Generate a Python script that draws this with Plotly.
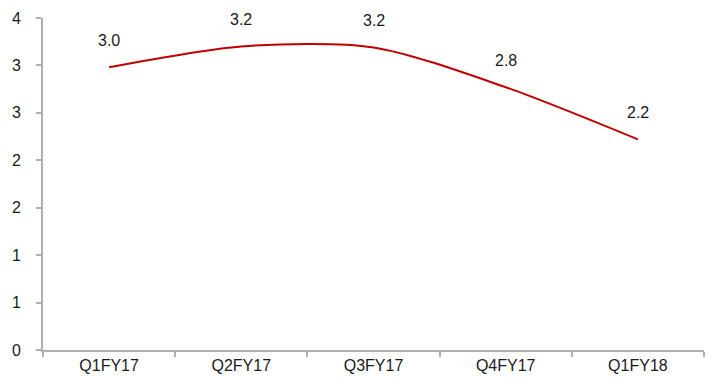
import plotly.graph_objects as go

categories = ["Q1FY17", "Q2FY17", "Q3FY17", "Q4FY17", "Q1FY18"]
values = [2.98, 3.20, 3.19, 2.77, 2.22]
value_labels = ["3.0", "3.2", "3.2", "2.8", "2.2"]
y_tickvals = [0, 0.5, 1.0, 1.5, 2.0, 2.5, 3.0, 3.5]
y_ticktext = ["0", "1", "1", "2", "2", "3", "3", "4"]

font_family = "Liberation Sans, Arial, sans-serif"

fig = go.Figure()
fig.add_trace(go.Scatter(
    x=categories, y=values, mode="lines",
    line=dict(color="#c00000", width=2, shape="spline", smoothing=0.8),
    hoverinfo="skip", showlegend=False,
))

for c, v, t in zip(categories, values, value_labels):
    fig.add_annotation(x=c, y=v, text=t, showarrow=False, yshift=27,
                       font=dict(family=font_family, size=16, color="#1a1a1a"))

axis_col = "#b0b0b0"
fig.update_layout(
    width=714, height=387,
    margin=dict(l=43, r=10, t=15, b=37),
    paper_bgcolor="white", plot_bgcolor="white",
    font=dict(family=font_family, size=16, color="#1a1a1a"),
    xaxis=dict(
        type="category", tickson="boundaries", ticks="outside", ticklen=5,
        tickcolor=axis_col, tickwidth=1.5,
        showline=True, linecolor=axis_col, linewidth=2,
        showgrid=False, zeroline=False, range=[-0.5, 4.5],
        tickfont=dict(size=16),
    ),
    yaxis=dict(
        range=[0, 3.5], tickvals=y_tickvals, ticktext=y_ticktext,
        ticks="outside", ticklen=5, tickcolor=axis_col, tickwidth=1.5,
        showline=True, linecolor=axis_col, linewidth=2,
        showgrid=False, zeroline=False, ticklabelstandoff=12,
        tickfont=dict(size=16),
    ),
)

fig.write_html("out.html")
